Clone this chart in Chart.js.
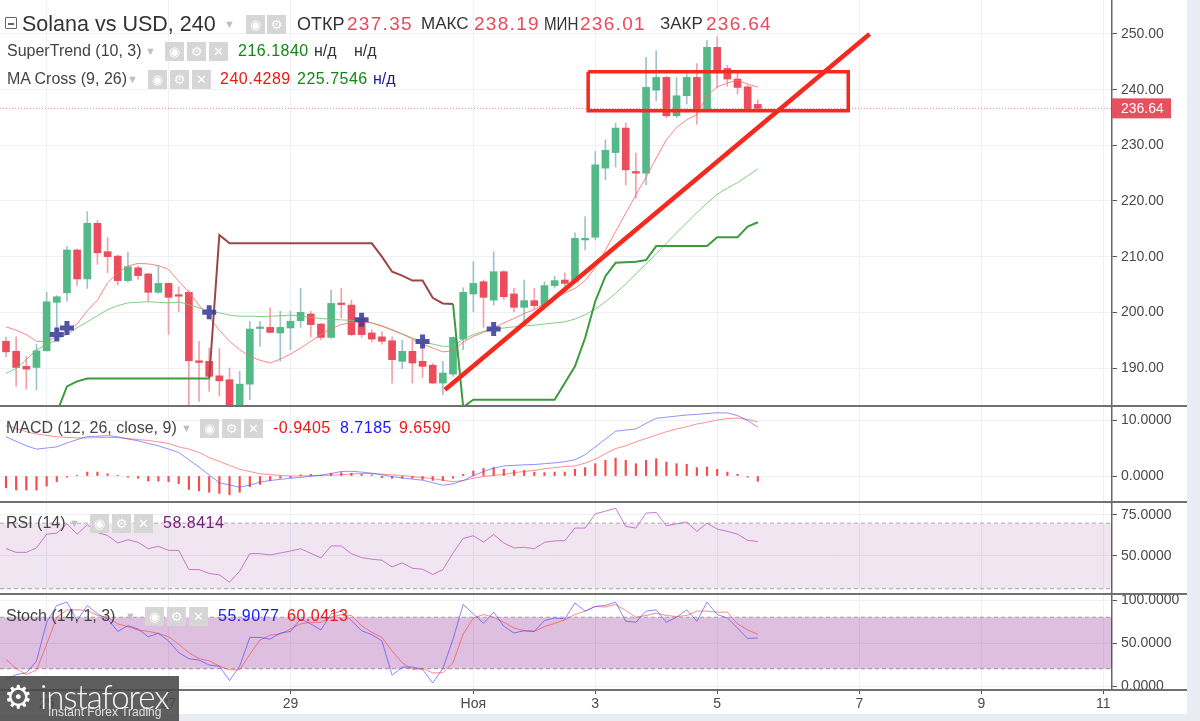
<!DOCTYPE html>
<html>
<head>
<meta charset="utf-8">
<script src="https://cdn.jsdelivr.net/npm/chart.js@4.4.0/dist/chart.umd.min.js"></script>
<style>
  body { margin: 0; width: 1200px; height: 721px; overflow: hidden; position: relative; background: #fff;
         font-family: "Liberation Sans", Arial, sans-serif; }
  .pane { position: absolute; left: 0; width: 1200px; }
  .pane canvas { display: block; }
  .sep { position: absolute; left: 0; width: 1187px; height: 2px; background: #707070; }
  .t { position: absolute; white-space: nowrap; height: 20px; line-height: 20px; color: #444; }
  .ic { position: absolute; width: 19px; height: 19px; background: #d6d6d6; color: #fff; font-size: 13px;
        line-height: 19px; text-align: center; font-family: "DejaVu Sans", sans-serif; }
  .arr { position: absolute; color: #c0c0c0; font-size: 11px; line-height: 20px; height: 20px; }
</style>
</head>
<body>
<div class="pane" style="top:0;height:406px"><canvas id="main" width="1200" height="406"></canvas></div>
<div class="pane" style="top:406px;height:96px"><canvas id="macd" width="1200" height="96"></canvas></div>
<div class="pane" style="top:502px;height:92px"><canvas id="rsi" width="1200" height="92"></canvas></div>
<div class="pane" style="top:594px;height:120px"><canvas id="stoch" width="1200" height="120"></canvas></div>

<div class="sep" style="top:405px"></div>
<div class="sep" style="top:501px"></div>
<div class="sep" style="top:593px"></div>
<div class="sep" style="top:689px"></div>
<div style="position:absolute;left:1187px;top:0;width:13px;height:721px;background:#e9ecf1"></div>
<div style="position:absolute;left:0;top:714px;width:1200px;height:7px;background:#e9ecf1"></div>

<!-- legend rows -->
<div style="position:absolute;left:5px;top:17px;width:10px;height:10px;border:1.5px solid #666;border-radius:1px"></div>
<div style="position:absolute;left:8px;top:23px;width:6px;height:1.5px;background:#666"></div>
<div class="t" style="left:22px;top:14px;font-size:21.5px;color:#333">Solana vs USD, 240</div>
<div class="arr" style="left:224px;top:14px">▼</div>
<div class="ic" style="left:246px;top:15px">◉</div>
<div class="ic" style="left:267px;top:15px">⚙</div>
<div class="t" style="left:297px;top:14px;font-size:18px;color:#333">ОТКР</div>
<div class="t" style="left:347px;top:14px;font-size:19px;color:#e84a5a;letter-spacing:1.3px">237.35</div>
<div class="t" style="left:421px;top:14px;font-size:17px;color:#333">МАКС</div>
<div class="t" style="left:474px;top:14px;font-size:19px;color:#e84a5a;letter-spacing:1.3px">238.19</div>
<div class="t" style="left:544px;top:14px;font-size:18px;color:#333;transform:scaleX(0.84);transform-origin:left center">МИН</div>
<div class="t" style="left:580px;top:14px;font-size:19px;color:#e84a5a;letter-spacing:1.3px">236.01</div>
<div class="t" style="left:660px;top:14px;font-size:17px;color:#333">ЗАКР</div>
<div class="t" style="left:706px;top:14px;font-size:19px;color:#e84a5a;letter-spacing:1.3px">236.64</div>

<div class="t" style="left:7px;top:41px;font-size:16px">SuperTrend (10, 3)</div>
<div class="arr" style="left:145px;top:41px">▼</div>
<div class="ic" style="left:165px;top:42px">◉</div>
<div class="ic" style="left:187px;top:42px">⚙</div>
<div class="ic" style="left:209px;top:42px">✕</div>
<div class="t" style="left:238px;top:41px;font-size:16px;color:#118811;letter-spacing:0.5px">216.1840</div>
<div class="t" style="left:314px;top:41px;font-size:16px;color:#333">н/д</div>
<div class="t" style="left:354px;top:41px;font-size:16px;color:#333">н/д</div>

<div class="t" style="left:7px;top:69px;font-size:16px">MA Cross (9, 26)</div>
<div class="arr" style="left:127px;top:69px">▼</div>
<div class="ic" style="left:148px;top:70px">◉</div>
<div class="ic" style="left:170px;top:70px">⚙</div>
<div class="ic" style="left:192px;top:70px">✕</div>
<div class="t" style="left:220px;top:69px;font-size:16px;color:#f01616;letter-spacing:0.5px">240.4289</div>
<div class="t" style="left:297px;top:69px;font-size:16px;color:#118811;letter-spacing:0.5px">225.7546</div>
<div class="t" style="left:373px;top:69px;font-size:16px;color:#1a1a99">н/д</div>

<div class="t" style="left:6px;top:418px;font-size:16px">MACD (12, 26, close, 9)</div>
<div class="arr" style="left:181px;top:418px">▼</div>
<div class="ic" style="left:200px;top:419px">◉</div>
<div class="ic" style="left:222px;top:419px">⚙</div>
<div class="ic" style="left:244px;top:419px">✕</div>
<div class="t" style="left:273px;top:418px;font-size:16px;color:#f01616;letter-spacing:0.5px">-0.9405</div>
<div class="t" style="left:340px;top:418px;font-size:16px;color:#1a1aff;letter-spacing:0.5px">8.7185</div>
<div class="t" style="left:399px;top:418px;font-size:16px;color:#f01616;letter-spacing:0.5px">9.6590</div>

<div class="t" style="left:6px;top:513px;font-size:16px">RSI (14)</div>
<div class="arr" style="left:69px;top:513px">▼</div>
<div class="ic" style="left:90px;top:514px">◉</div>
<div class="ic" style="left:112px;top:514px">⚙</div>
<div class="ic" style="left:134px;top:514px">✕</div>
<div class="t" style="left:163px;top:513px;font-size:16px;color:#7a1a7a;letter-spacing:0.5px">58.8414</div>

<div class="t" style="left:6px;top:606px;font-size:16px">Stoch (14, 1, 3)</div>
<div class="arr" style="left:125px;top:606px">▼</div>
<div class="ic" style="left:145px;top:607px">◉</div>
<div class="ic" style="left:167px;top:607px">⚙</div>
<div class="ic" style="left:189px;top:607px">✕</div>
<div class="t" style="left:218px;top:606px;font-size:16px;color:#1a1aff;letter-spacing:0.5px">55.9077</div>
<div class="t" style="left:287px;top:606px;font-size:16px;color:#f01616;letter-spacing:0.5px">60.0413</div>

<!-- watermark -->
<div style="position:absolute;left:0;top:676px;width:179px;height:45px;background:rgba(72,72,72,0.88)">
  <div style="position:absolute;left:4px;top:2px;font-size:32px;color:#fff;font-family:'DejaVu Sans',sans-serif">⚙</div>
  <div style="position:absolute;left:40px;top:0px;font-size:33px;color:#f4f4f4;letter-spacing:-1px;font-family:Lato,sans-serif;font-weight:300">instaforex</div>
  <div style="position:absolute;left:48px;top:29px;font-size:12px;color:#e0e0e0">Instant Forex Trading</div>
</div>

<script>
// time axis (bar index, 4h bars)
const dayTickIdx = [4, 16, 28, 46, 58, 70, 84, 96, 108];
const dayTickLabel = ["25", "27", "29", "Ноя", "3", "5", "7", "9", "11"];

// candles
const open = [
  194.8, 193.0, 190.3, 190.1, 193.1, 201.8, 203.5, 211.2, 206.0, 216.0,
  210.9, 210.1, 205.7, 208.0, 206.9, 203.6, 205.2, 203.0, 203.6, 191.3,
  191.2, 188.6, 187.9, 182.8, 187.1, 197.1, 197.3, 196.3, 197.2, 198.5,
  199.7, 197.9, 195.5, 201.6, 201.3, 198.9, 196.3, 195.6, 194.9, 191.2,
  193.0, 191.2, 190.5, 187.3, 188.9, 195.2, 203.3, 205.5, 202.2, 207.3,
  203.3, 200.9, 202.1, 201.2, 204.8, 205.8, 205.5, 213.0, 213.5, 225.9,
  228.7, 233.1, 225.3, 225.0, 239.9, 242.2, 235.3, 238.9, 242.2, 236.5,
  247.6, 243.8, 241.9, 240.5, 237.35,
];
const close = [
  192.9, 190.1, 189.8, 193.1, 201.9, 202.8, 211.2, 206.0, 216.0, 210.7,
  210.0, 205.7, 208.2, 206.6, 203.6, 205.2, 202.7, 202.9, 191.3, 191.0,
  188.5, 187.7, 182.8, 187.1, 197.0, 197.3, 196.4, 197.3, 198.4, 200.0,
  197.8, 195.5, 201.6, 201.4, 196.0, 196.0, 195.2, 194.8, 191.5, 193.0,
  190.9, 190.3, 187.3, 189.1, 195.5, 203.6, 205.2, 202.7, 207.3, 202.8,
  200.9, 202.1, 201.2, 204.8, 205.7, 205.2, 213.3, 213.3, 226.5, 229.1,
  233.1, 225.6, 225.0, 240.4, 242.2, 235.3, 238.9, 242.2, 236.1, 247.6,
  243.4, 241.9, 240.4, 236.4, 236.64,
];
const high = [
  195.5, 195.6, 192.1, 194.3, 203.6, 203.0, 211.8, 211.4, 218.1, 216.5,
  213.4, 210.3, 210.8, 208.3, 207.0, 208.4, 205.3, 204.6, 204.0, 194.8,
  193.6, 193.5, 190.0, 189.4, 198.4, 198.4, 200.8, 200.2, 200.2, 204.3,
  200.2, 198.0, 204.0, 204.3, 202.2, 199.3, 196.9, 196.5, 195.6, 195.0,
  195.1, 195.1, 190.8, 191.2, 195.6, 204.4, 209.1, 205.8, 210.9, 207.5,
  204.3, 205.8, 204.3, 205.5, 206.5, 207.1, 214.3, 217.2, 228.9, 231.0,
  234.0, 234.0, 228.6, 245.8, 247.0, 242.4, 242.2, 243.0, 244.7, 248.8,
  249.5, 244.4, 243.0, 240.8, 238.19,
];
const low = [
  192.0, 186.7, 186.2, 186.1, 193.0, 196.3, 202.0, 204.8, 204.3, 208.6,
  207.1, 204.9, 205.4, 205.9, 202.0, 203.4, 196.0, 200.1, 182.5, 184.0,
  185.8, 185.0, 182.5, 182.5, 184.3, 193.9, 196.3, 191.2, 193.3, 197.3,
  195.6, 195.1, 195.3, 199.0, 195.8, 195.5, 194.7, 194.3, 187.3, 189.9,
  187.3, 188.3, 187.2, 185.2, 188.5, 193.3, 200.1, 197.3, 201.3, 202.3,
  200.1, 198.3, 200.6, 200.5, 204.4, 204.8, 205.3, 211.2, 213.0, 223.8,
  226.1, 222.9, 220.5, 222.9, 238.0, 235.0, 235.0, 237.4, 233.8, 236.3,
  240.3, 240.6, 239.2, 236.2, 236.01,
];

// MA Cross (9, 26)
const maFast = [
  197.4, 196.8, 196.0, 194.8, 194.8, 195.6, 196.7, 197.9, 200.3, 202.2,
  205.3, 207.1, 208.3, 208.8, 208.7, 208.4, 207.7, 205.6, 203.6, 201.3,
  199.1, 196.8, 194.8, 193.3, 192.1, 191.4, 190.9, 191.6, 192.5, 193.6,
  194.8, 196.0, 197.1, 197.8, 198.2, 198.4, 198.1, 197.5, 196.8, 196.1,
  195.2, 194.3, 193.6, 192.9, 193.1, 194.7, 195.7, 196.4, 197.2, 198.1,
  198.9, 199.8, 200.5, 201.6, 202.6, 203.5, 204.3, 205.7, 208.0, 211.2,
  214.5, 217.8, 221.1, 224.3, 227.7, 231.0, 233.2, 234.6, 235.5, 238.9,
  240.5, 241.2, 241.7, 241.0, 240.43,
];
const maSlow = [
  189.05, 189.9, 191.5, 193.3, 194.2, 195.1, 196.1, 197.25, 198.3, 199.4,
  200.5, 201.2, 201.7, 201.8, 201.9, 201.8, 201.7, 201.85, 201.4, 200.8,
  200.3, 199.9, 199.5, 199.3, 199.3, 199.25, 199.3, 199.4, 199.5, 199.3,
  199.1, 198.9, 198.75, 198.65, 198.55, 198.5, 198.1, 197.6, 196.9, 196.15,
  195.4, 194.8, 194.3, 193.9, 193.9, 195.2, 196.0, 196.6, 197.0, 197.2,
  197.4, 197.55, 197.7, 197.9, 198.1, 198.3, 198.8, 199.55, 200.6, 201.9,
  203.4, 205.1, 206.9, 208.7, 210.5, 212.4, 214.3, 216.1, 217.9, 219.6,
  221.2, 222.3, 223.3, 224.5, 225.75,
];
const crossIdx = [5, 6, 20, 35, 41, 48];
const crossPrice = [196.0, 197.2, 200.0, 198.65, 194.75, 197.0];

// SuperTrend (10, 3): up leg / down leg
const stUp = [
  null, null, null, null, null, 182.0, 186.7, 187.6, 188.1, 188.1,
  188.1, 188.1, 188.1, 188.1, 188.1, 188.1, 188.1, 188.1, 188.1, 188.1,
  188.1, null, null, null, null, null, null, null, null, null,
  null, null, null, null, null, null, null, null, null, null,
  null, null, null, null, 201.5, 183.0, 184.3, 184.3, 184.3, 184.3,
  184.3, 184.3, 184.3, 184.3, 184.3, 187.3, 190.3, 195.4, 202.0, 206.5,
  208.9, 209.0, 209.1, 209.4, 211.9, 211.9, 211.9, 211.9, 211.9, 211.9,
  213.5, 213.5, 213.5, 215.4, 216.184,
];
const stDown = [
  null, null, null, null, null, null, null, null, null, null,
  null, null, null, null, null, null, null, null, null, null,
  188.1, 213.9, 212.4, 212.4, 212.4, 212.4, 212.4, 212.4, 212.4, 212.4,
  212.4, 212.4, 212.4, 212.4, 212.4, 212.4, 212.4, 210.0, 207.3, 206.6,
  205.7, 205.7, 202.6, 201.6, 201.5, null, null, null, null, null,
  null, null, null, null, null, null, null, null, null, null,
  null, null, null, null, null, null, null, null, null, null,
  null, null, null, null, null,
];

// hand drawings
const trendIdx = [43.2, 85.0];
const trendPrice = [186.1, 250.0];
const boxIdx = [57.3, 82.9, 82.9, 57.3, 57.3];
const boxPrice = [243.2, 243.2, 236.2, 236.2, 243.2];

// MACD (12, 26, close, 9)
const macdLine = [
  7.0, 6.2, 5.4, 4.8, 5.0, 5.2, 5.9, 6.5, 7.05, 7.1,
  7.2, 7.0, 6.6, 6.3, 5.8, 5.4, 4.8, 4.2, 2.9, 1.6,
  0.2, -1.2, -1.6, -2.0, -1.6, -1.1, -0.8, -0.6, -0.4, -0.25,
  -0.05, 0.15, 0.45, 0.8, 0.85, 0.7, 0.5, 0.2, -0.1, -0.35,
  -0.55, -0.75, -1.2, -1.65, -1.4, -0.8, 0.05, 0.8, 1.4, 1.8,
  1.9, 2.0, 2.05, 2.2, 2.35, 2.55, 2.9, 3.8, 5.2, 6.6,
  8.0, 8.2, 8.4, 9.4, 10.3, 10.5, 10.7, 10.9, 11.0, 11.15,
  11.3, 11.25, 10.8, 9.9, 8.7185,
];
const macdSignal = [
  9.0, 8.5, 7.9, 7.5, 7.25, 7.0, 6.9, 6.8, 6.8, 6.85,
  6.9, 6.85, 6.7, 6.5, 6.35, 6.1, 5.8, 5.2, 4.8, 4.2,
  3.3, 2.6, 1.9, 1.2, 0.8, 0.4, 0.25, 0.1, 0.0, 0.0,
  0.05, 0.1, 0.15, 0.25, 0.35, 0.45, 0.45, 0.35, 0.2, 0.1,
  -0.1, -0.3, -0.45, -0.75, -1.0, -0.8, -0.4, -0.1, 0.1, 0.3,
  0.6, 0.8, 1.0, 1.3, 1.5, 1.7, 1.8, 2.3, 3.0, 4.0,
  4.9, 5.4, 6.1, 6.7, 7.3, 7.9, 8.4, 8.8, 9.3, 9.6,
  10.0, 10.25, 10.35, 10.1, 9.659,
];
const macdHist = [
  -2.1, -2.5, -2.5, -2.5, -1.8, -1.0, -0.2, 0.05, 0.7, 0.7,
  0.4, 0.05, -0.2, -0.4, -0.9, -0.9, -1.0, -1.35, -2.4, -2.65,
  -2.9, -3.1, -3.35, -2.9, -1.9, -1.5, -0.8, -0.4, -0.3, 0.2,
  0.3, 0.05, 0.5, 0.6, 0.5, 0.3, 0.2, -0.3, -0.4, -0.4,
  -0.4, -0.6, -0.8, -0.8, -0.4, 0.3, 0.9, 1.35, 1.5, 1.2,
  1.0, 1.0, 0.7, 0.6, 0.7, 0.7, 1.2, 1.5, 2.2, 2.8,
  3.2, 2.8, 2.2, 2.8, 3.1, 2.5, 2.2, 2.1, 1.5, 1.6,
  1.2, 0.7, 0.3, -0.2, -0.9405,
];

// RSI (14)
const rsi = [
  54.5, 52.2, 52.2, 54.9, 63.3, 63.9, 69.6, 63.3, 69.0, 64.3,
  62.5, 57.9, 59.9, 58.3, 54.4, 55.9, 53.4, 53.4, 41.7, 41.7,
  39.3, 38.5, 34.0, 40.7, 51.4, 51.4, 50.6, 51.8, 53.0, 54.4,
  51.6, 48.8, 56.1, 56.1, 51.4, 49.0, 48.0, 47.4, 43.3, 45.8,
  42.5, 41.9, 38.7, 41.7, 51.8, 60.7, 62.3, 58.5, 63.1, 57.9,
  54.9, 55.3, 54.4, 58.3, 59.2, 59.3, 67.0, 67.0, 75.7, 77.3,
  79.1, 68.0, 67.0, 76.1, 76.5, 68.4, 69.6, 70.6, 65.0, 70.0,
  66.4, 65.0, 63.3, 59.5, 58.8414,
];
const rsiBand = [70, 30];

// Stoch (14, 1, 3)
const stochK = [
  7.5, 13.3, 15.3, 29.0, 74.1, 93.7, 97.6, 76.1, 93.7, 83.9,
  78.0, 63.5, 70.2, 66.3, 57.3, 61.2, 52.5, 38.8, 31.8, 30.2,
  24.3, 23.1, 6.3, 23.1, 56.5, 56.5, 54.5, 61.6, 63.5, 78.0,
  72.2, 65.1, 83.9, 87.1, 76.1, 64.3, 59.6, 52.5, 12.5, 22.0,
  22.0, 19.2, 3.5, 20.4, 54.5, 94.9, 83.9, 72.9, 85.9, 69.4,
  61.6, 64.3, 63.5, 76.1, 79.2, 78.0, 96.5, 87.1, 92.5, 93.7,
  97.6, 75.3, 74.1, 87.1, 88.6, 74.1, 80.0, 88.6, 75.3, 97.6,
  83.1, 79.2, 67.5, 55.3, 55.9077,
];
const stochD = [
  31.0, 20.4, 13.3, 18.4, 48.6, 80.0, 88.6, 88.6, 87.8, 82.0,
  80.0, 72.2, 69.0, 65.1, 63.5, 61.2, 57.3, 48.6, 38.8, 31.8,
  29.4, 23.1, 18.8, 18.8, 36.9, 53.3, 59.2, 60.4, 66.3, 72.2,
  74.1, 74.1, 80.0, 83.1, 82.0, 70.2, 62.4, 56.5, 40.8, 27.1,
  19.2, 20.4, 15.3, 15.3, 27.1, 60.4, 79.2, 83.1, 80.0, 74.1,
  67.5, 64.3, 63.5, 69.0, 72.9, 76.9, 83.1, 87.1, 92.5, 91.8,
  94.9, 87.8, 80.0, 82.0, 84.7, 82.0, 80.8, 82.0, 87.1, 87.1,
  85.9, 85.9, 72.2, 65.1, 60.0413,
];
const stochBand = [80, 20];

const priceTicks = [190, 200, 210, 220, 230, 240, 250];
const macdTicks = [0, 10];
const rsiTicks = [50, 75];
const stochTicks = [0, 50, 100];

// ---------------------------------------------------------------
Chart.defaults.font.family = '"Liberation Sans", Arial, sans-serif';
Chart.defaults.animation = false;

const xMin = -0.59, xMax = 108.86;
const GRID = "#edf1f6";
const UP = "#53b987", DOWN = "#eb4d5c";
const lastClose = close[close.length - 1];

const pts = (arr) => arr.map((v, i) => ({ x: i, y: v }));
const flat = (v) => [{ x: xMin, y: v }, { x: xMax, y: v }];

function xAxis(showLabels) {
  return {
    type: "linear", min: xMin, max: xMax, offset: false,
    afterBuildTicks: (s) => { s.ticks = dayTickIdx.map((v) => ({ value: v })); },
    afterFit: (s) => { s.paddingLeft = 0; s.paddingRight = 0; s.height = showLabels ? 24 : 0; },
    grid: { color: GRID, drawTicks: showLabels, tickLength: 4, tickColor: "#555", offset: false },
    border: { display: false },
    ticks: {
      display: showLabels, autoSkip: false, maxRotation: 0, padding: 2,
      color: "#4a4a4a", font: { size: 14 },
      callback: (v, i) => dayTickLabel[i],
    },
  };
}

function yAxis(min, max, ticks, digits) {
  return {
    position: "right", min, max,
    afterBuildTicks: (s) => { s.ticks = ticks.map((v) => ({ value: v })); },
    afterFit: (s) => { s.width = 88; s.paddingTop = 0; s.paddingBottom = 0; },
    grid: { color: GRID, tickLength: 5, tickColor: "#555" },
    border: { color: "#666", width: 1.5 },
    ticks: { color: "#4a4a4a", font: { size: 14 }, padding: 4, callback: (v) => v.toFixed(digits) },
  };
}

const baseOptions = (x, y) => ({
  responsive: false,
  events: [],
  layout: { padding: 0, autoPadding: false },
  plugins: { legend: { display: false }, tooltip: { enabled: false } },
  scales: { x, y },
});

const lastPriceTag = {
  id: "lastPriceTag",
  afterDraw(chart) {
    const { ctx, scales: { y } } = chart;
    const py = y.getPixelForValue(lastClose);
    ctx.save();
    ctx.fillStyle = "#e8505f";
    ctx.fillRect(y.left, py - 10, 59, 20);
    ctx.fillStyle = "#fff";
    ctx.font = '14px "Liberation Sans", Arial, sans-serif';
    ctx.textBaseline = "middle";
    ctx.fillText(lastClose.toFixed(2), y.left + 9, py + 1);
    ctx.restore();
  },
};

// main price pane
new Chart(document.getElementById("main"), {
  type: "line",
  data: {
    datasets: [
      {
        type: "line", data: trendIdx.map((x, k) => ({ x, y: trendPrice[k] })),
        borderColor: "#f42a1e", borderWidth: 4.5, pointRadius: 0, order: -2,
      },
      {
        type: "line", data: boxIdx.map((x, k) => ({ x, y: boxPrice[k] })),
        borderColor: "#f42a1e", borderWidth: 3.5, pointRadius: 0, order: -2,
      },
      {
        type: "line", data: crossIdx.map((x, k) => ({ x, y: crossPrice[k] })),
        showLine: false, pointStyle: "cross", pointRadius: 7, pointBorderWidth: 5,
        pointBorderColor: "rgba(60,60,155,0.88)", order: -1,
      },
      {
        type: "line", data: flat(lastClose), borderColor: "rgba(235,80,92,0.7)",
        borderWidth: 1, borderDash: [1, 2], pointRadius: 0, order: 0,
      },
      {
        type: "line", data: pts(stUp), borderColor: "#3d9b3d", borderWidth: 2,
        pointRadius: 0, spanGaps: false, order: 0,
      },
      {
        type: "line", data: pts(stDown), borderColor: "#9a4646", borderWidth: 2,
        pointRadius: 0, spanGaps: false, order: 0,
      },
      {
        type: "line", data: pts(maFast), borderColor: "rgba(250,110,110,0.85)",
        borderWidth: 1, pointRadius: 0, order: 1,
      },
      {
        type: "line", data: pts(maSlow), borderColor: "rgba(110,195,110,0.85)",
        borderWidth: 1, pointRadius: 0, order: 1,
      },
      {
        type: "bar", data: open.map((o, i) => ({ x: i, y: [o, close[i]] })),
        backgroundColor: open.map((o, i) => (close[i] >= o ? UP : DOWN)),
        barThickness: 7, minBarLength: 1.5, grouped: false, order: 2,
      },
      {
        type: "bar", data: low.map((l, i) => ({ x: i, y: [l, high[i]] })),
        backgroundColor: open.map((o, i) => (close[i] >= o ? "#9fc3cb" : "#f3a0a9")),
        barThickness: 1, grouped: false, order: 3,
      },
    ],
  },
  options: baseOptions(xAxis(false), yAxis(183.18, 256.1, priceTicks, 2)),
  plugins: [lastPriceTag],
});

// MACD pane
new Chart(document.getElementById("macd"), {
  type: "line",
  data: {
    datasets: [
      { type: "line", data: pts(macdLine), borderColor: "rgba(70,70,255,0.6)", borderWidth: 1, pointRadius: 0, order: 0 },
      { type: "line", data: pts(macdSignal), borderColor: "rgba(255,70,70,0.6)", borderWidth: 1, pointRadius: 0, order: 0 },
      { type: "bar", data: pts(macdHist), backgroundColor: "rgba(245,55,55,0.9)", barThickness: 1.5, grouped: false, order: 1 },
    ],
  },
  options: baseOptions(xAxis(false), yAxis(-4.64, 12.5, macdTicks, 4)),
});

// RSI pane
new Chart(document.getElementById("rsi"), {
  type: "line",
  data: {
    datasets: [
      { data: pts(rsi), borderColor: "rgba(190,100,195,0.85)", borderWidth: 1, pointRadius: 0 },
      {
        data: flat(rsiBand[0]), borderColor: "#a8a8a8", borderWidth: 1, borderDash: [4, 3],
        pointRadius: 0, fill: "+1", backgroundColor: "rgba(128,0,128,0.1)",
      },
      { data: flat(rsiBand[1]), borderColor: "#a8a8a8", borderWidth: 1, borderDash: [4, 3], pointRadius: 0 },
    ],
  },
  options: baseOptions(xAxis(false), yAxis(26.8, 82.9, rsiTicks, 4)),
});

// Stochastic pane (carries the time axis)
new Chart(document.getElementById("stoch"), {
  type: "line",
  data: {
    datasets: [
      { data: pts(stochK), borderColor: "rgba(60,60,255,0.6)", borderWidth: 1, pointRadius: 0 },
      { data: pts(stochD), borderColor: "rgba(255,60,60,0.6)", borderWidth: 1, pointRadius: 0 },
      {
        data: flat(stochBand[0]), borderColor: "#a0a0a0", borderWidth: 1, borderDash: [4, 3],
        pointRadius: 0, fill: "+1", backgroundColor: "rgba(128,0,128,0.25)",
      },
      { data: flat(stochBand[1]), borderColor: "#a0a0a0", borderWidth: 1, borderDash: [4, 3], pointRadius: 0 },
    ],
  },
  options: baseOptions(xAxis(true), yAxis(-4.65, 107, stochTicks, 4)),
});
</script>
</body>
</html>
